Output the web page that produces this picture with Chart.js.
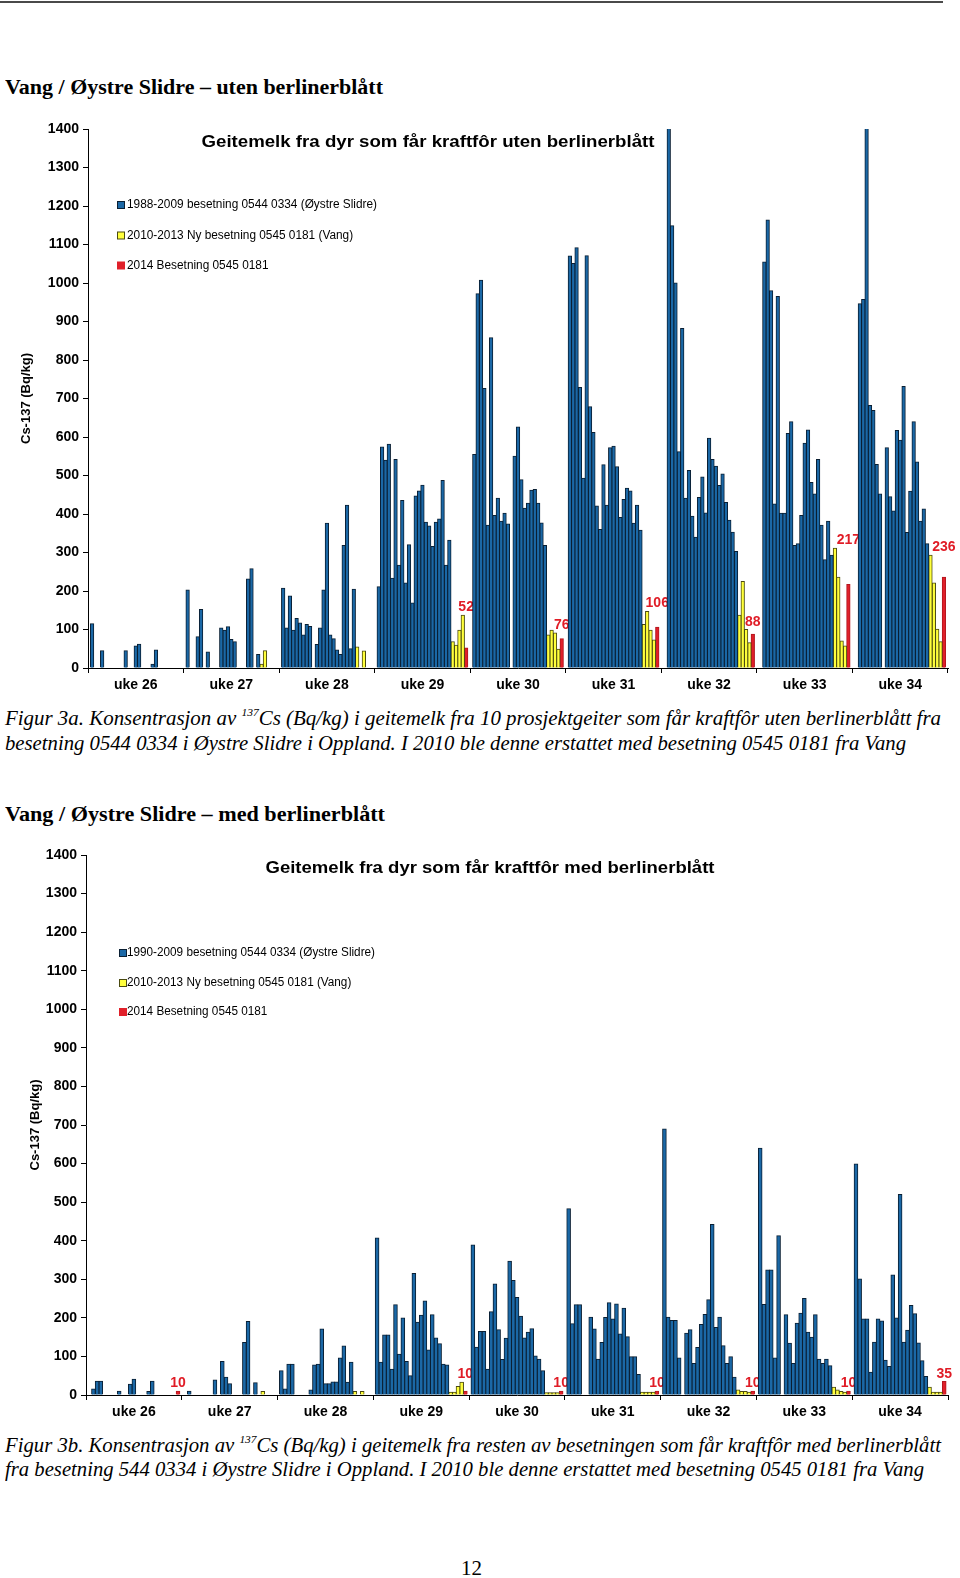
<!DOCTYPE html>
<html lang="no">
<head>
<meta charset="utf-8">
<title>Geitemelk Cs-137 – Vang / Øystre Slidre</title>
<script src="https://cdn.jsdelivr.net/npm/chart.js@4.4.1/dist/chart.umd.min.js"></script>
<style>
  html, body { margin: 0; padding: 0; background: #fff; }
  body { width: 960px; height: 1578px; position: relative; overflow: hidden; }
  .rule { position: absolute; left: 0; top: 1px; width: 943px; height: 2px; background: #4a4a4a; }
  .txt { position: absolute; left: 5px; white-space: nowrap; line-height: 1; transform-origin: 0 50%; color: #000; }
  .heading { font: bold 20px "Liberation Serif", serif; }
  .caption { font: italic 20px "Liberation Serif", serif; }
  .caption sup { font-size: 11px; line-height: 0; vertical-align: baseline; position: relative; top: -0.75em; }
  .pagenum { font: 22px "Liberation Serif", serif; }
  .chartbox { position: absolute; left: 0; width: 960px; height: 590px; }
</style>
</head>
<body>
<div class="rule"></div>

<div class="txt heading" data-cy="87.5" data-w="378">Vang / Øystre Slidre – uten berlinerblått</div>
<div class="chartbox" style="top:112px"><canvas id="chartA" width="960" height="590"></canvas></div>
<div class="txt caption" data-cy="718" data-w="936">Figur 3a. Konsentrasjon av <sup>137</sup>Cs (Bq/kg) i geitemelk fra 10 prosjektgeiter som får kraftfôr uten berlinerblått fra</div>
<div class="txt caption" data-cy="743" data-w="901">besetning 0544 0334 i Øystre Slidre i Oppland. I 2010 ble denne erstattet med besetning 0545 0181 fra Vang</div>

<div class="txt heading" data-cy="814" data-w="380">Vang / Øystre Slidre – med berlinerblått</div>
<div class="chartbox" style="top:835px"><canvas id="chartB" width="960" height="590"></canvas></div>
<div class="txt caption" data-cy="1445" data-w="936">Figur 3b. Konsentrasjon av <sup>137</sup>Cs (Bq/kg) i geitemelk fra resten av besetningen som får kraftfôr med berlinerblått</div>
<div class="txt caption" data-cy="1469" data-w="919">fra besetning 544 0334 i Øystre Slidre i Oppland. I 2010 ble denne erstattet med besetning 0545 0181 fra Vang</div>

<div class="txt pagenum" data-cy="1568" data-cx="472" data-w="21">12</div>

<script>
// ---- data ----
const weeks = ["uke 26", "uke 27", "uke 28", "uke 29", "uke 30", "uke 31", "uke 32", "uke 33", "uke 34"];
const blueYearsA = ["1988", "1989", "1990", "1991", "1992", "1993", "1994", "1995", "1996", "1997", "1998",
  "1999", "2000", "2001", "2002", "2003", "2004", "2005", "2006", "2007", "2008", "2009"];
const blueYearsB = ["1990", "1991", "1992", "1993", "1994", "1995", "1996", "1997", "1998", "1999",
  "2000", "2001", "2002", "2003", "2004", "2005", "2006", "2007", "2008", "2009"];
const yellowYears = ["2010", "2011", "2012", "2013"];
const redYear = "2014";
const yTitle = "Cs-137 (Bq/kg)";

// Figur 3a - uten berlinerblått (one row per week, one value per year)
const blueA = [
  [115, null, null, 45, null, null, null, null, null, null, 45, null, null, 57, 62, null, null, null, 10, 47, null, null],
  [203, null, null, 81, 152, null, 42, null, null, null, 104, 98, 107, 74, 68, null, null, null, 231, 258, null, 35],
  [207, 104, 187, 98, 129, 117, 86, 113, 108, null, 61, 104, 203, 376, 86, 76, 47, 35, 318, 423, 50, 205],
  [211, 574, 540, 581, 233, 542, 267, 435, 221, 320, 169, 447, 460, 475, 379, 369, 316, 379, 387, 487, 267, 332],
  [555, 972, 1007, 726, 371, 858, 396, 441, 381, 402, 374, null, 550, 626, 489, 415, 428, 462, 464, 428, 377, 318],
  [1070, 1051, 1092, 729, 493, 1071, 679, 612, 421, 360, 528, 423, 572, 576, 523, 391, 438, 467, 460, 376, 423, 358],
  [null, 1480, 1149, 1000, 562, 882, 441, 513, 394, 340, 443, 496, 403, 597, 542, 524, 474, 504, 430, 384, 353, 303],
  [null, 1055, 1164, 980, 426, 965, 402, 402, 609, 640, 318, 323, 396, 584, 618, 482, 452, 542, 371, 281, 381, 293],
  [null, 946, 957, 1480, 682, 669, 529, 452, null, 572, 445, 408, 617, 592, 731, 352, 459, 640, 535, 381, 413, 323]
];
const yellowA = [
  [null, null, null, null],
  [10, 45, null, null],
  [55, null, 44, null],
  [68, 59, 98, 137],
  [86, 98, 91, 49],
  [113, 147, 98, 73],
  [137, 225, 100, 66],
  [311, 236, 70, 57],
  [293, 221, 101, 68]
];
const redA = [null, null, null, 52, 76, 106, 88, 217, 236];

// Figur 3b - med berlinerblått
const blueB = [
  [null, 16, 36, 36, null, null, null, null, 10, null, null, 28, 41, null, null, null, 9, 36, null, null],
  [null, 10, null, null, null, null, null, null, 39, null, 87, 46, 29, null, null, null, 136, 191, null, 32],
  [63, 16, 80, 80, null, null, null, null, 13, 78, 80, 171, 29, 29, 34, 34, 96, 127, 33, 85],
  [407, 85, 156, 156, 67, 234, 106, 200, 87, 50, 315, 189, 207, 244, 117, 208, 148, 133, 80, 78],
  [389, 124, 165, 165, 67, 216, 288, 169, 92, 147, 347, 297, 253, 204, 148, 163, 172, 101, 93, 63],
  [483, 185, 234, 234, null, null, 202, 171, 93, 136, 201, 239, 197, 236, 158, 225, 151, 99, 99, 53],
  [690, 202, 193, 193, 96, null, 160, 169, 82, 123, 183, 209, 247, 442, 175, 202, 128, 82, 99, 46],
  [640, 235, 324, 324, 96, 413, null, 208, 134, 82, 186, 212, 250, 163, 150, 208, 93, 82, 93, 76],
  [599, 301, 197, 197, 59, 137, 197, 192, 90, 74, 311, 200, 520, 137, 168, 232, 211, 135, 89, 48]
];
const yellowB = [
  [null, null, null, null],
  [null, 9, null, null],
  [9, null, 9, null],
  [7, 7, 22, 33],
  [6, 6, 6, 6],
  [7, 7, 7, 7],
  [13, 9, 9, 7],
  [20, 13, 9, 7],
  [20, 7, 7, 7]
];
const redB = [10, null, null, 10, 10, 10, 10, 10, 35];

const legendA = ["1988-2009 besetning 0544 0334 (Øystre Slidre)", "2010-2013 Ny besetning 0545 0181 (Vang)", "2014 Besetning 0545 0181"];
const legendB = ["1990-2009 besetning 0544 0334 (Øystre Slidre)", "2010-2013 Ny besetning 0545 0181 (Vang)", "2014 Besetning 0545 0181"];
const titleA = "Geitemelk fra dyr som får kraftfôr uten berlinerblått";
const titleB = "Geitemelk fra dyr som får kraftfôr med berlinerblått";

// ---- styles ----
const SANS = '"Liberation Sans", Arial, sans-serif';
const BLUE = "#1b68a6", BLUE_EDGE = "#0a1f33";
const YELLOW = "#ffff3c", YELLOW_EDGE = "#4a4a10";
const RED = "#e0202a", RED_EDGE = "#b3161e";
const LABEL_RED = "#e01c26";

function buildDatasets(blue, yellow, red, blueYears) {
  const sets = [];
  const common = { borderWidth: 1, inflateAmount: 0.45, clip: 0 };
  blueYears.forEach((yr, k) => sets.push(Object.assign({
    label: yr, data: blue.map(w => w[k]), backgroundColor: BLUE, borderColor: BLUE_EDGE
  }, common)));
  yellowYears.forEach((yr, k) => sets.push(Object.assign({
    label: yr, data: yellow.map(w => w[k]), backgroundColor: YELLOW, borderColor: YELLOW_EDGE
  }, common)));
  sets.push(Object.assign({ label: redYear, data: red, backgroundColor: RED, borderColor: RED_EDGE }, common));
  return sets;
}

function drawScaled(ctx, text, x, y, sx, align) {
  ctx.save();
  ctx.translate(x, y);
  ctx.scale(sx, 1);
  ctx.textAlign = align;
  ctx.textBaseline = "middle";
  ctx.fillText(text, 0, 0);
  ctx.restore();
}

function makeOverlay(cfg) {
  return {
    id: "overlay",
    beforeDatasetsDraw(chart) {
      // red value labels for 2014, lifted clear of the 2010-2014 bars under them
      const ctx = chart.ctx;
      const sets = chart.data.datasets;
      const redIdx = sets.length - 1;
      const redMeta = chart.getDatasetMeta(redIdx);
      ctx.save();
      ctx.font = "bold 14px " + SANS;
      ctx.fillStyle = LABEL_RED;
      ctx.textAlign = "center";
      ctx.textBaseline = "alphabetic";
      sets[redIdx].data.forEach((v, i) => {
        if (v == null) return;
        const bar = redMeta.data[i];
        const half = ctx.measureText(String(v)).width / 2 + 0.5;
        let top = bar.y;
        for (let d = redIdx - yellowYears.length; d <= redIdx; d++) {
          if (sets[d].data[i] == null) continue;
          const el = chart.getDatasetMeta(d).data[i];
          if (el.x + el.width / 2 > bar.x - half && el.x - el.width / 2 < bar.x + half) top = Math.min(top, el.y);
        }
        ctx.fillText(String(v), bar.x, top - 4);
      });
      ctx.restore();
    },
    afterDraw(chart) {
      const ctx = chart.ctx;
      ctx.save();
      ctx.fillStyle = "#000";
      ctx.font = "bold 17px " + SANS;
      drawScaled(ctx, cfg.title, cfg.titleX, cfg.titleY, cfg.titleW / ctx.measureText(cfg.title).width, "center");

      ctx.font = "12px " + SANS;
      const sx = cfg.legendW / ctx.measureText(cfg.legend[0]).width;
      const swatches = [[BLUE, BLUE_EDGE], [YELLOW, YELLOW_EDGE], [RED, RED]];
      cfg.legend.forEach((text, k) => {
        const y = cfg.legendY[k];
        ctx.fillStyle = swatches[k][1];
        ctx.fillRect(cfg.legendX, y - 4, 8, 8);
        ctx.fillStyle = swatches[k][0];
        ctx.fillRect(cfg.legendX + 1, y - 3, 6, 6);
        ctx.fillStyle = "#000";
        drawScaled(ctx, text, cfg.legendX + cfg.legendGap, y, sx, "left");
      });
      ctx.restore();
    }
  };
}

function makeChart(id, cfg) {
  return new Chart(document.getElementById(id), {
    type: "bar",
    data: { labels: weeks, datasets: buildDatasets(cfg.blue, cfg.yellow, cfg.red, cfg.blueYears) },
    options: {
      responsive: false,
      animation: false,
      devicePixelRatio: 1,
      layout: { padding: { top: cfg.padTop, right: 12, left: 0, bottom: 0 } },
      datasets: { bar: { categoryPercentage: cfg.catPct, barPercentage: 1 } },
      plugins: { legend: { display: false }, title: { display: false }, tooltip: { enabled: false } },
      scales: {
        x: {
          grid: { drawOnChartArea: false, offset: true, tickLength: 5, color: "#000" },
          border: { color: "#000", width: 1 },
          ticks: { color: "#000", font: { family: SANS, size: 14, weight: "bold" }, padding: cfg.xPad, maxRotation: 0, autoSkip: false },
          afterFit: s => { s.height = cfg.xH; }
        },
        y: {
          min: 0,
          max: 1400,
          grid: { drawOnChartArea: false, tickLength: 5, color: "#000" },
          border: { color: "#000", width: 1 },
          ticks: {
            stepSize: 100, color: "#000", padding: 4,
            font: { family: SANS, size: 14, weight: "bold" },
            callback: v => String(v)
          },
          title: { display: true, text: yTitle, color: "#000", font: { family: SANS, size: 13, weight: "bold" }, padding: { top: cfg.yTitlePad, bottom: 0 } },
          afterFit: s => { s.width = cfg.yW; }
        }
      }
    },
    plugins: [makeOverlay(cfg)]
  });
}

makeChart("chartA", {
  blue: blueA, yellow: yellowA, red: redA, blueYears: blueYearsA,
  padTop: 17, xH: 34, xPad: 4, yW: 88, yTitlePad: 19, catPct: 0.95,
  title: titleA, titleX: 428, titleY: 30, titleW: 453,
  legend: legendA, legendX: 117, legendGap: 10, legendY: [93, 123.5, 153.5], legendW: 250
});

makeChart("chartB", {
  blue: blueB, yellow: yellowB, red: redB, blueYears: blueYearsB,
  padTop: 20, xH: 30, xPad: 4, yW: 86, yTitlePad: 28, catPct: 0.96,
  title: titleB, titleX: 490, titleY: 33, titleW: 449,
  legend: legendB, legendX: 119, legendGap: 8, legendY: [118, 148, 177], legendW: 248
});

// place page text: vertical centre, optional horizontal centre, fitted width
document.querySelectorAll(".txt").forEach(el => {
  const r = el.getBoundingClientRect();
  el.style.top = (+el.dataset.cy - r.height / 2) + "px";
  if (el.dataset.cx) el.style.left = (+el.dataset.cx - r.width / 2) + "px";
  if (el.dataset.w) el.style.transform = "scaleX(" + (+el.dataset.w / r.width) + ")";
});
</script>
</body>
</html>
